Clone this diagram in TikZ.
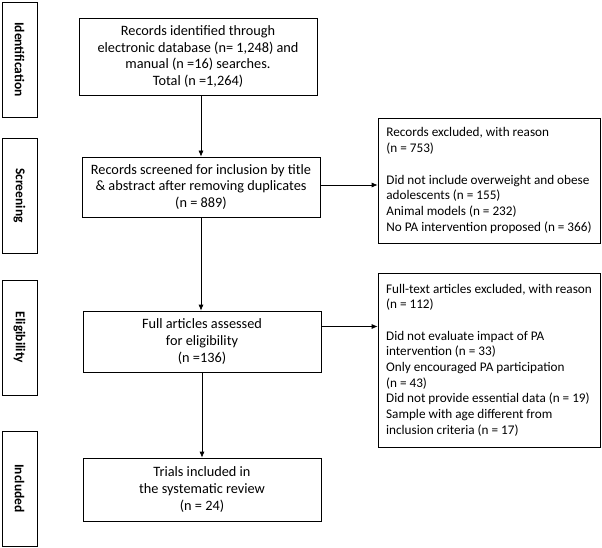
\documentclass[tikz,border=0pt]{standalone}
\usepackage{fontspec}
\setmainfont{Carlito}
\usetikzlibrary{positioning}
\usetikzlibrary{arrows.meta}
\tikzstyle{stage}=[rectangle, draw, line width=0.9pt, rotate=-90, minimum width=115pt, minimum height=35pt, inner sep=0pt, font=\bfseries\fontsize{13.5}{15}\selectfont]
\tikzstyle{flowbox}=[rectangle, draw, line width=0.7pt, minimum width=238pt, align=center, inner sep=2pt, font=\fontsize{14.3}{16.7}\selectfont]
\tikzstyle{reasonbox}=[rectangle, draw, line width=0.7pt, minimum width=222pt, align=left, font=\fontsize{13.2}{15.7}\selectfont]
\tikzstyle{flowarrow}=[-{Latex[length=6pt,width=5pt]}, line width=0.7pt]

\begin{document}
\begin{tikzpicture}[x=1pt, y=-1pt]
    \useasboundingbox (0,0) rectangle (602,548);
    % stage labels
    \node[stage] (sid) at (19.5, 59.5) {Identification};
    \node[stage] (sscr) at (19.5, 195.5) {Screening};
    \node[stage] (selig) at (19.5, 337.5) {Eligibility};
    \node[stage] (sinc) at (19.5, 488.5) {Included};
    % main flow
    \node[flowbox, minimum height=77pt] (ident) at (198, 56.5)
    {Records identified through\\electronic database (n= 1,248) and\\manual (n =16) searches.\\Total (n =1,264)};
    \node[flowbox, minimum height=60pt] (screen) at (201, 187)
    {Records screened for inclusion by title\\\& abstract after removing duplicates\\(n = 889)};
    \node[flowbox, minimum height=61pt] (elig) at (202, 341.5)
    {Full articles assessed\\for eligibility\\(n =136)};
    \node[flowbox, minimum height=63pt] (incl) at (202, 489.5)
    {Trials included in\\the systematic review\\(n = 24)};
    % exclusions
    \node[reasonbox, minimum height=125pt] (excl1) at (489, 180.5)
    {Records excluded, with reason\\(n = 753)\\[15.7pt]Did not include overweight and obese\\adolescents (n = 155)\\Animal models (n = 232)\\No PA intervention proposed (n = 366)};
    \node[reasonbox, minimum height=174pt] (excl2) at (489, 360)
    {Full-text articles excluded, with reason\\(n = 112)\\[15.7pt]Did not evaluate impact of PA\\intervention (n = 33)\\Only encouraged PA participation\\(n = 43)\\Did not provide essential data (n = 19)\\Sample with age different from\\inclusion criteria (n = 17)};
    % arrows
    \draw[flowarrow] (screen.north |- ident.south) -- (screen.north);
    \draw[flowarrow] (screen.south) -- (screen.south |- elig.north);
    \draw[flowarrow] (elig.south) -- (incl.north);
    \draw[flowarrow] ([yshift=2pt]screen.east) -- ([yshift=2pt]screen.east -| excl1.west);
    \draw[flowarrow] ([yshift=15pt]elig.east) -- ([yshift=15pt]elig.east -| excl2.west);
\end{tikzpicture}
\end{document}
